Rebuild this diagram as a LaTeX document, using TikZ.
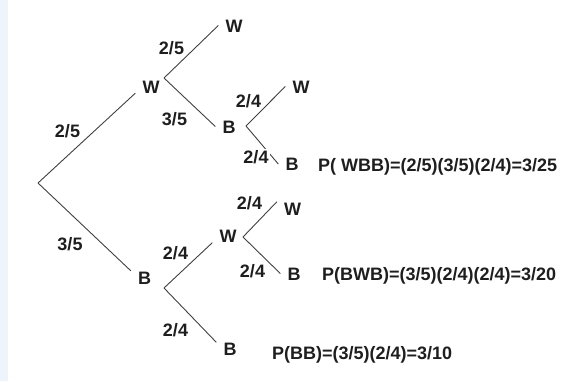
\documentclass[tikz,border=0pt]{standalone}
\usepackage{fontspec}
\setmainfont{Liberation Sans}
\usepackage{xcolor}
\usepackage{tikz}
\usetikzlibrary{positioning}

\definecolor{stripblue}{HTML}{EEF4FC}
\definecolor{inkgray}{HTML}{1E1E1E}

\begin{document}
\begin{tikzpicture}[x=1pt, y=-1pt,
	ball/.style={font=\bfseries\fontsize{18}{20}\selectfont, text=inkgray,
		inner xsep=7pt, inner ysep=0pt, text height=13pt, text depth=0pt},
	prob/.style={font=\bfseries\fontsize{18}{20}\selectfont, text=inkgray,
		inner sep=0pt, text height=13pt, text depth=0pt},
	branch/.style={draw=inkgray!85, line width=0.9pt}]
		
		% Frame and left strip
		\useasboundingbox (0,0) rectangle (568,381);
		\fill[stripblue] (0,0) rectangle (8,381);
		
		% Branch points
		\coordinate (root) at (38,183);
		\coordinate (v1) at (164,78);
		\coordinate (v2) at (246,126);
		\coordinate (v3) at (164,288);
		\coordinate (v4) at (243,237);
		
		% Draws
		\node[ball] (w1) at (151,86.5) {W};
		\node[ball] (w2) at (234,25.5) {W};
		\node[ball] (b1) at (229,126.5) {B};
		\node[ball] (w3) at (301,86.5) {W};
		\node[ball] (b2) at (292,164) {B};
		\node[ball] (b3) at (144.5,277.5) {B};
		\node[ball] (w4) at (228,236) {W};
		\node[ball] (b4) at (230,349) {B};
		\node[ball] (w5) at (292.5,208.5) {W};
		\node[ball] (b5) at (294,273.5) {B};
		
		% Branches
		\draw[branch] (root) -- (w1.south west);
		\draw[branch] (root) -- (b3.north west);
		\draw[branch] (v1) -- (w2.west);
		\draw[branch] (v1) -- (b1.west);
		\draw[branch] (v2) -- (w3.west);
		\draw[branch] (v2) -- (b2.west);
		\draw[branch] (v3) -- (w4.south west);
		\draw[branch] (v3) -- (b4.north west);
		\draw[branch] (v4) -- (w5.north west);
		\draw[branch] (v4) -- (b5.west);
		
		% Branch probabilities
		\foreach \x/\y/\t [count=\i] in {
			67.5/131/2\slash 5,
			70/244/3\slash 5,
			171.5/47.5/2\slash 5,
			174.5/119/3\slash 5,
			248.5/101/2\slash 4,
			175.5/252.5/2\slash 4,
			175.5/330/2\slash 4,
			249.5/202.5/2\slash 4,
			252.5/271/2\slash 4
		}{
			\node[prob] (p\i) at (\x,\y) {\t};
		}
		\node[prob, fill=white, inner sep=1.5pt] (p10) at (256,157) {2/4};
		
		% Path probabilities
		\node[prob, anchor=west] (pwbb) at (318,165) {P( WBB)=(2/5)(3/5)(2/4)=3/25};
		\node[prob, anchor=west] (pbwb) at (322,273.5) {P(BWB)=(3/5)(2/4)(2/4)=3/20};
		\node[prob, anchor=west] (pbb) at (272,352.5) {P(BB)=(3/5)(2/4)=3/10};
		
	\end{tikzpicture}
\end{document}
